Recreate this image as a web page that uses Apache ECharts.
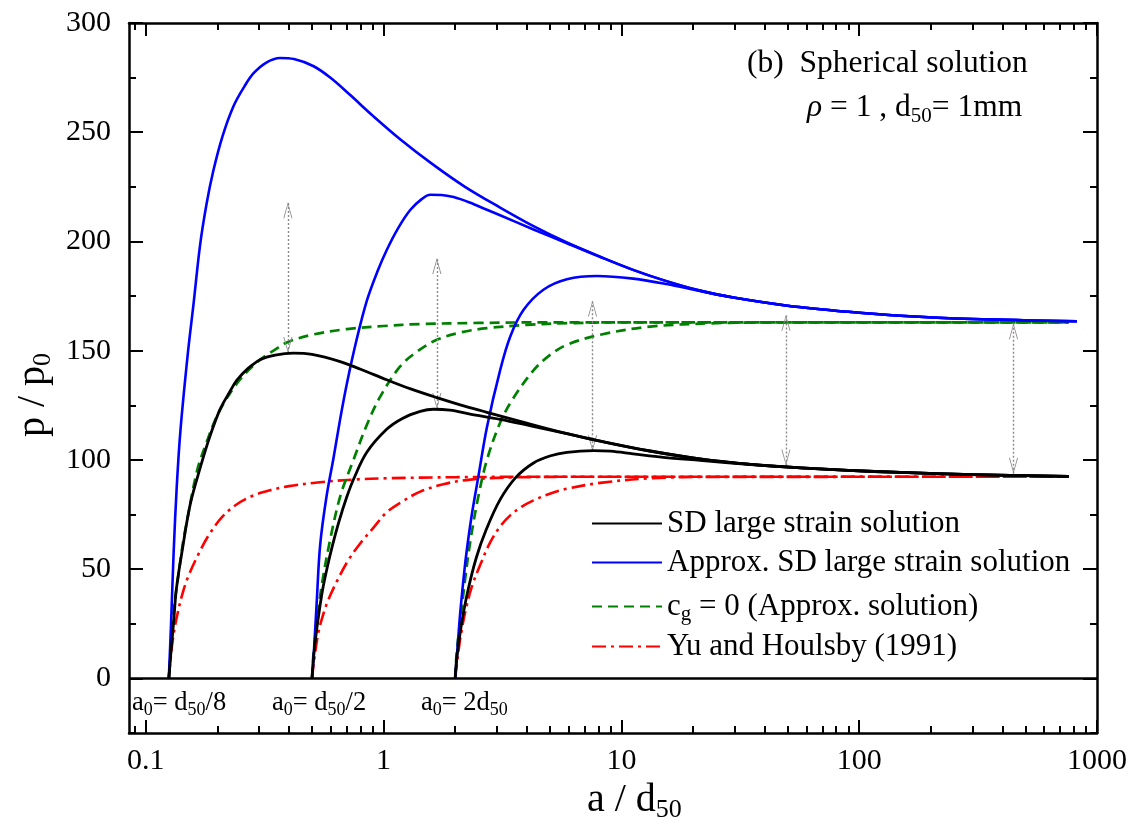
<!DOCTYPE html>
<html><head><meta charset="utf-8">
<script src="https://cdn.jsdelivr.net/npm/echarts@6/dist/echarts.min.js"></script>
<style>html,body{margin:0;padding:0;background:#fff}#c{width:1138px;height:838px}</style>
</head><body><div id="c"></div>
<script>
// ---------------- data (a/d50 , p/p0) ----------------
// SD large strain solution
const sd_a0_8 = [[0.125,0],[0.1276,12],[0.131,26],[0.1345,41],[0.1425,59],[0.154,80],[0.17,97],[0.185,110],[0.205,123],[0.225,131],[0.2416,136.5],[0.27,142],[0.3025,145.9],[0.35,148],[0.418,148.9],[0.5,148.3],[0.657,145],[0.8,141.5],[1.03,136.7],[1.3,132.5],[1.675,128.5],[2.1,125.2],[2.72,121.8],[3.75,117.6],[5.5,112.8],[8.15,108.6],[13,104.2],[21.4,100.5],[35,98],[56.6,96.4],[90,95.2],[149,94.3],[300,93.3],[760,92.5]];
const sd_a0_2 = [[0.5,0],[0.508,10],[0.52,20],[0.535,30],[0.555,41],[0.58,51],[0.61,61],[0.65,72],[0.7,83],[0.75,91.5],[0.85,103.5],[1.03,114],[1.2,119],[1.426,122.2],[1.62,123.2],[1.9,122.8],[2.31,121],[3.09,118.6],[4.2,115.5],[5.9,112],[8.15,108.6],[13,104.2],[21.4,100.5],[35,98],[56.6,96.4],[90,95.2],[149,94.3],[300,93.3],[760,92.5]];
const sd_a0_2d = [[2,0],[2.03,9],[2.12,24],[2.25,39],[2.45,55],[2.7,68],[3.09,81.8],[3.6,92],[4.27,98.6],[5,101.8],[5.9,103.5],[7.63,104.3],[9,104],[11.2,102.8],[15,101.2],[21.4,99.8],[35,97.9],[56.6,96.4],[90,95.2],[149,94.3],[300,93.3],[760,92.5]];
// Approx. SD large strain solution
const ap_a0_8 = [[0.125,0],[0.1276,24],[0.131,58],[0.135,88],[0.14,114],[0.15,148],[0.159,172],[0.169,198],[0.18,217],[0.192,232],[0.21,248],[0.234,262],[0.26,271],[0.284,277],[0.32,281.8],[0.367,284],[0.42,283.5],[0.508,280.2],[0.6,274.8],[0.724,267],[0.9,257.6],[1.174,246.8],[1.6,235.5],[2.2,225],[3.09,215.5],[4.27,207],[5.9,199.5],[8.15,193],[11.2,187],[15,182.3],[21.4,177.5],[30,174.2],[50,170.6],[90,167.8],[149,166],[300,164.5],[823,163.5]];
const ap_a0_2 = [[0.5,0],[0.508,10],[0.524,36],[0.541,61],[0.575,83],[0.616,101],[0.655,118],[0.701,135],[0.77,155],[0.851,173],[0.94,186],[1.03,196],[1.15,206],[1.294,214.4],[1.45,219.5],[1.57,221.4],[1.75,221.3],[1.97,220.3],[2.3,217.8],[2.72,214.5],[3.09,212],[4.27,205.5],[5.9,199.2],[8.15,192.9],[11.2,187],[15,182.3],[21.4,177.5],[30,174.2],[50,170.6],[90,167.8],[149,166],[300,164.5],[823,163.5]];
const ap_a0_2d = [[2,0],[2.04,12],[2.1,30],[2.18,48],[2.24,59],[2.35,75],[2.5,92],[2.72,115],[3.09,141],[3.41,156.5],[3.88,168.7],[4.7,177.9],[5.9,182.7],[7.89,184.2],[11.2,183],[15.5,180.5],[21.4,177.3],[30,174.2],[50,170.6],[90,167.8],[149,166],[300,164.5],[823,163.5]];
// c_g = 0 (Approx. solution)
const cg_a0_8 = [[0.125,0],[0.128,15],[0.131,31],[0.137,47],[0.1438,63],[0.149,72],[0.1643,95],[0.18,108],[0.199,120],[0.22,128.5],[0.2416,135],[0.27,141],[0.3025,145.9],[0.35,150.5],[0.392,153.8],[0.5,157.3],[0.701,159.9],[1,161.3],[1.426,162.2],[2.5,162.7],[5,163],[760,163]];
const cg_a0_2 = [[0.5,0],[0.508,12],[0.524,25],[0.55,43],[0.6,65],[0.66,84],[0.747,100],[0.85,116],[0.968,129],[1.174,142.8],[1.4,150],[1.675,155],[2.1,158.3],[2.72,160.3],[4,161.8],[6,162.6],[10,163],[760,163]];
const cg_a0_2d = [[2,0],[2.03,12],[2.1,26],[2.2,45],[2.31,62],[2.5,83],[2.72,100],[3.09,117],[3.5,128],[4.27,141],[5,148],[5.9,152.7],[8.15,157.3],[13.2,161],[25,162.6],[50,163],[760,163]];
// Yu and Houlsby (1991)
const yh_a0_8 = [[0.125,0],[0.127,8],[0.13,18],[0.135,28],[0.142,38],[0.15,46],[0.165,56],[0.185,66],[0.21,74],[0.24,79.5],[0.28,83.5],[0.33,86],[0.4,88],[0.54,89.8],[0.75,91],[1.03,91.6],[2,92.1],[5,92.3],[760,92.3]];
const yh_a0_2 = [[0.5,0],[0.51,8],[0.532,21],[0.56,30],[0.586,36],[0.64,45],[0.71,54],[0.8,62],[0.907,69],[1.03,76],[1.2,81],[1.426,85.5],[1.8,89],[2.31,91],[3.5,92],[8,92.3],[760,92.3]];
const yh_a0_2d = [[2,0],[2.03,6],[2.1,18],[2.2,30],[2.35,42],[2.55,52],[2.8,62],[3.09,69.5],[3.4,74.5],[3.8,78.5],[4.27,81.5],[5,84.5],[5.9,86.8],[8.15,89.5],[13.2,91.6],[25,92.2],[760,92.3]];
// gray double arrows
const arrowA    = [0.396, 1.675, 7.56, 49.2, 445.6];
const arrowLow  = [149, 123.3, 104, 97.4, 93.7];
const arrowHigh = [218, 192.4, 173, 166.4, 162.6];
// axes
const xMajorTicks = [0.1, 1, 10, 100, 1000];
const xMinorTicks = [0.09,0.2,0.3,0.4,0.5,0.6,0.7,0.8,0.9,2,3,4,5,6,7,8,9,20,30,40,50,60,70,80,90,200,300,400,500,600,700,800,900];
const yMajorTicks = [0, 50, 100, 150, 200, 250, 300];
const yMinorTicks = [-25, 25, 75, 125, 175, 225, 275];
const legendNames = ['SD large strain solution', 'Approx. SD large strain solution', 'c_g = 0 (Approx. solution)', 'Yu and Houlsby (1991)'];

// ---------------- chart ----------------
const FONT = 'Liberation Serif';
const chart = echarts.init(document.getElementById('c'), null, {renderer: 'canvas', width: 1138, height: 838});
const X_MIN = 0.085, X_MAX = 1000, Y_MIN = -25, Y_MAX = 300;

function fmtNum(v) { return String(Number(Number(v).toPrecision(6))); }

function xAx(pos, ticks, len, showLabel, showLine) {
  return {
    type: 'log', logBase: 10, min: X_MIN, max: X_MAX, position: pos, gridIndex: 0,
    axisLine: {show: showLine, onZero: false, lineStyle: {color: '#000', width: 2.5}},
    axisTick: {show: true, inside: true, length: len, customValues: ticks, lineStyle: {color: '#000', width: 2}},
    axisLabel: {show: showLabel, customValues: xMajorTicks, margin: 13, color: '#000', fontFamily: FONT, fontSize: 30, formatter: fmtNum},
    splitLine: {show: false}, minorTick: {show: false}, minorSplitLine: {show: false}
  };
}
function yAx(pos, ticks, len, showLabel, showLine) {
  return {
    type: 'value', min: Y_MIN, max: Y_MAX, position: pos, gridIndex: 0,
    axisLine: {show: showLine, onZero: false, lineStyle: {color: '#000', width: 2.5}},
    axisTick: {show: true, inside: true, length: len, customValues: ticks, lineStyle: {color: '#000', width: 2}},
    axisLabel: {show: showLabel, customValues: yMajorTicks, margin: 18, color: '#000', fontFamily: FONT, fontSize: 30},
    splitLine: {show: false}, minorTick: {show: false}
  };
}

const COLORS = {sd: '#000000', ap: '#0000ff', cg: '#008000', yh: '#ff0000'};
function ser(name, data, color, type, width, z) {
  return {
    type: 'line', name: name, data: data, xAxisIndex: 0, yAxisIndex: 0,
    symbol: 'none', showSymbol: false, smooth: 0.35,
    lineStyle: {color: color, width: width, type: type, cap: 'butt', join: 'round'}, itemStyle: {color: color},
    silent: true, animation: false, z: z
  };
}

// open chevron inside a square box; its tip sits at the centre of the box
const chev = 'path://M0,0 L0,0.01 M60,0 L60,0.01 M30,30 L38.5,60 L36.8,60 L30,35 L23.2,60 L21.5,60 Z';

const series = [
  ser(legendNames[3], yh_a0_8, COLORS.yh, [14, 5, 3, 5], 2.6, 2),
  ser(legendNames[3], yh_a0_2, COLORS.yh, [14, 5, 3, 5], 2.6, 2),
  ser(legendNames[3], yh_a0_2d, COLORS.yh, [14, 5, 3, 5], 2.6, 2),
  ser(legendNames[2], cg_a0_8, COLORS.cg, [10, 6], 2.7, 3),
  ser(legendNames[2], cg_a0_2, COLORS.cg, [10, 6], 2.7, 3),
  ser(legendNames[2], cg_a0_2d, COLORS.cg, [10, 6], 2.7, 3),
  ser(legendNames[1], ap_a0_8, COLORS.ap, 'solid', 2.6, 4),
  ser(legendNames[1], ap_a0_2, COLORS.ap, 'solid', 2.6, 4),
  ser(legendNames[1], ap_a0_2d, COLORS.ap, 'solid', 2.6, 4),
  ser(legendNames[0], sd_a0_8, COLORS.sd, 'solid', 2.8, 5),
  ser(legendNames[0], sd_a0_2, COLORS.sd, 'solid', 2.8, 5),
  ser(legendNames[0], sd_a0_2d, COLORS.sd, 'solid', 2.8, 5)
];
// zero line
series[9].markLine = {
  silent: true, symbol: 'none', animation: false, label: {show: false},
  lineStyle: {color: '#000', width: 2.5, type: 'solid'}, emphasis: {disabled: true},
  data: [{yAxis: 0}]
};
// double arrows
series[0].markLine = {
  silent: true, animation: false, label: {show: false},
  symbol: [chev, chev], symbolSize: 32,
  lineStyle: {color: '#8a8a8a', width: 1.4, type: [2, 2]},
  itemStyle: {color: '#8a8a8a'}, emphasis: {disabled: true},
  data: arrowA.map((a, i) => [{coord: [a, arrowLow[i]]}, {coord: [a, arrowHigh[i]]}])
};

const legendRowCenter = [523, 562, 603, 646];
const richLeg = {
  n: {fontFamily: FONT, fontSize: 31, color: '#000', lineHeight: 30},
  s: {fontFamily: FONT, fontSize: 21, color: '#000', lineHeight: 14, padding: [16, 0, 0, 0]}
};
function legFmt(name) {
  if (name === legendNames[2]) return '{n|c}{s|g}{n| = 0 (Approx. solution)}';
  return '{n|' + name + '}';
}
const legends = legendNames.map((nm, i) => ({
  data: [nm], orient: 'vertical', left: 591, top: legendRowCenter[i] - 15,
  itemWidth: 70, itemHeight: 14, padding: 0, itemGap: 0, selectedMode: false,
  formatter: legFmt, itemStyle: {opacity: 0, borderWidth: 0},
  textStyle: {fontFamily: FONT, fontSize: 31, color: '#000', lineHeight: 30, rich: richLeg}
}));

function richText(fs, sub, shift) {
  return {
    n: {fontFamily: FONT, fontSize: fs, fill: '#000', lineHeight: fs},
    i: {fontFamily: FONT, fontSize: fs, fill: '#000', lineHeight: fs, fontStyle: 'italic'},
    s: {fontFamily: FONT, fontSize: sub, fill: '#000', lineHeight: fs - 2 * shift, padding: [2 * shift, 0, 0, 0]}
  };
}
function txt(x, y, text, fs, sub, shift) {
  return {
    type: 'text', x: x, y: y, silent: true, z: 50,
    style: {text: text, fontFamily: FONT, fontSize: fs, fill: '#000', align: 'left', verticalAlign: 'middle', rich: richText(fs, sub, shift)}
  };
}

const graphics = [
  txt(747, 64, '{n|(b)  Spherical solution}', 31.5, 21, 8),
  txt(807, 108, '{i|ρ}{n| = 1 , d}{s|50}{n|= 1mm}', 31.5, 21, 8),
  txt(132, 703, '{n|a}{s|0}{n|= d}{s|50}{n|/8}', 26.5, 18, 7),
  txt(272, 703, '{n|a}{s|0}{n|= d}{s|50}{n|/2}', 26.5, 18, 7),
  txt(421, 703, '{n|a}{s|0}{n|= 2d}{s|50}', 26.5, 18, 7),
  txt(587, 800, '{n|a / d}{s|50}', 40, 26, 10),
  {
    type: 'text', x: 33, y: 395, rotation: Math.PI / 2, silent: true, z: 50,
    style: {text: '{n|p / p}{s|0}', fontFamily: FONT, fontSize: 40, fill: '#000', align: 'center', verticalAlign: 'middle', rich: richText(40, 26, 10)}
  }
];

chart.setOption({
  animation: false,
  backgroundColor: '#ffffff',
  grid: {left: 129, right: 41, top: 23, bottom: 105, containLabel: false, outerBoundsMode: 'none'},
  xAxis: [
    xAx('bottom', xMajorTicks, 13, true, true),
    xAx('bottom', xMinorTicks, 7, false, false),
    xAx('top', xMajorTicks, 13, false, true),
    xAx('top', xMinorTicks, 7, false, false)
  ],
  yAxis: [
    yAx('left', yMajorTicks, 14, true, true),
    yAx('left', yMinorTicks, 7, false, false),
    yAx('right', yMajorTicks, 14, false, true),
    yAx('right', yMinorTicks, 7, false, false)
  ],
  legend: legends,
  series: series,
  graphic: graphics
});
</script>
</body></html>
